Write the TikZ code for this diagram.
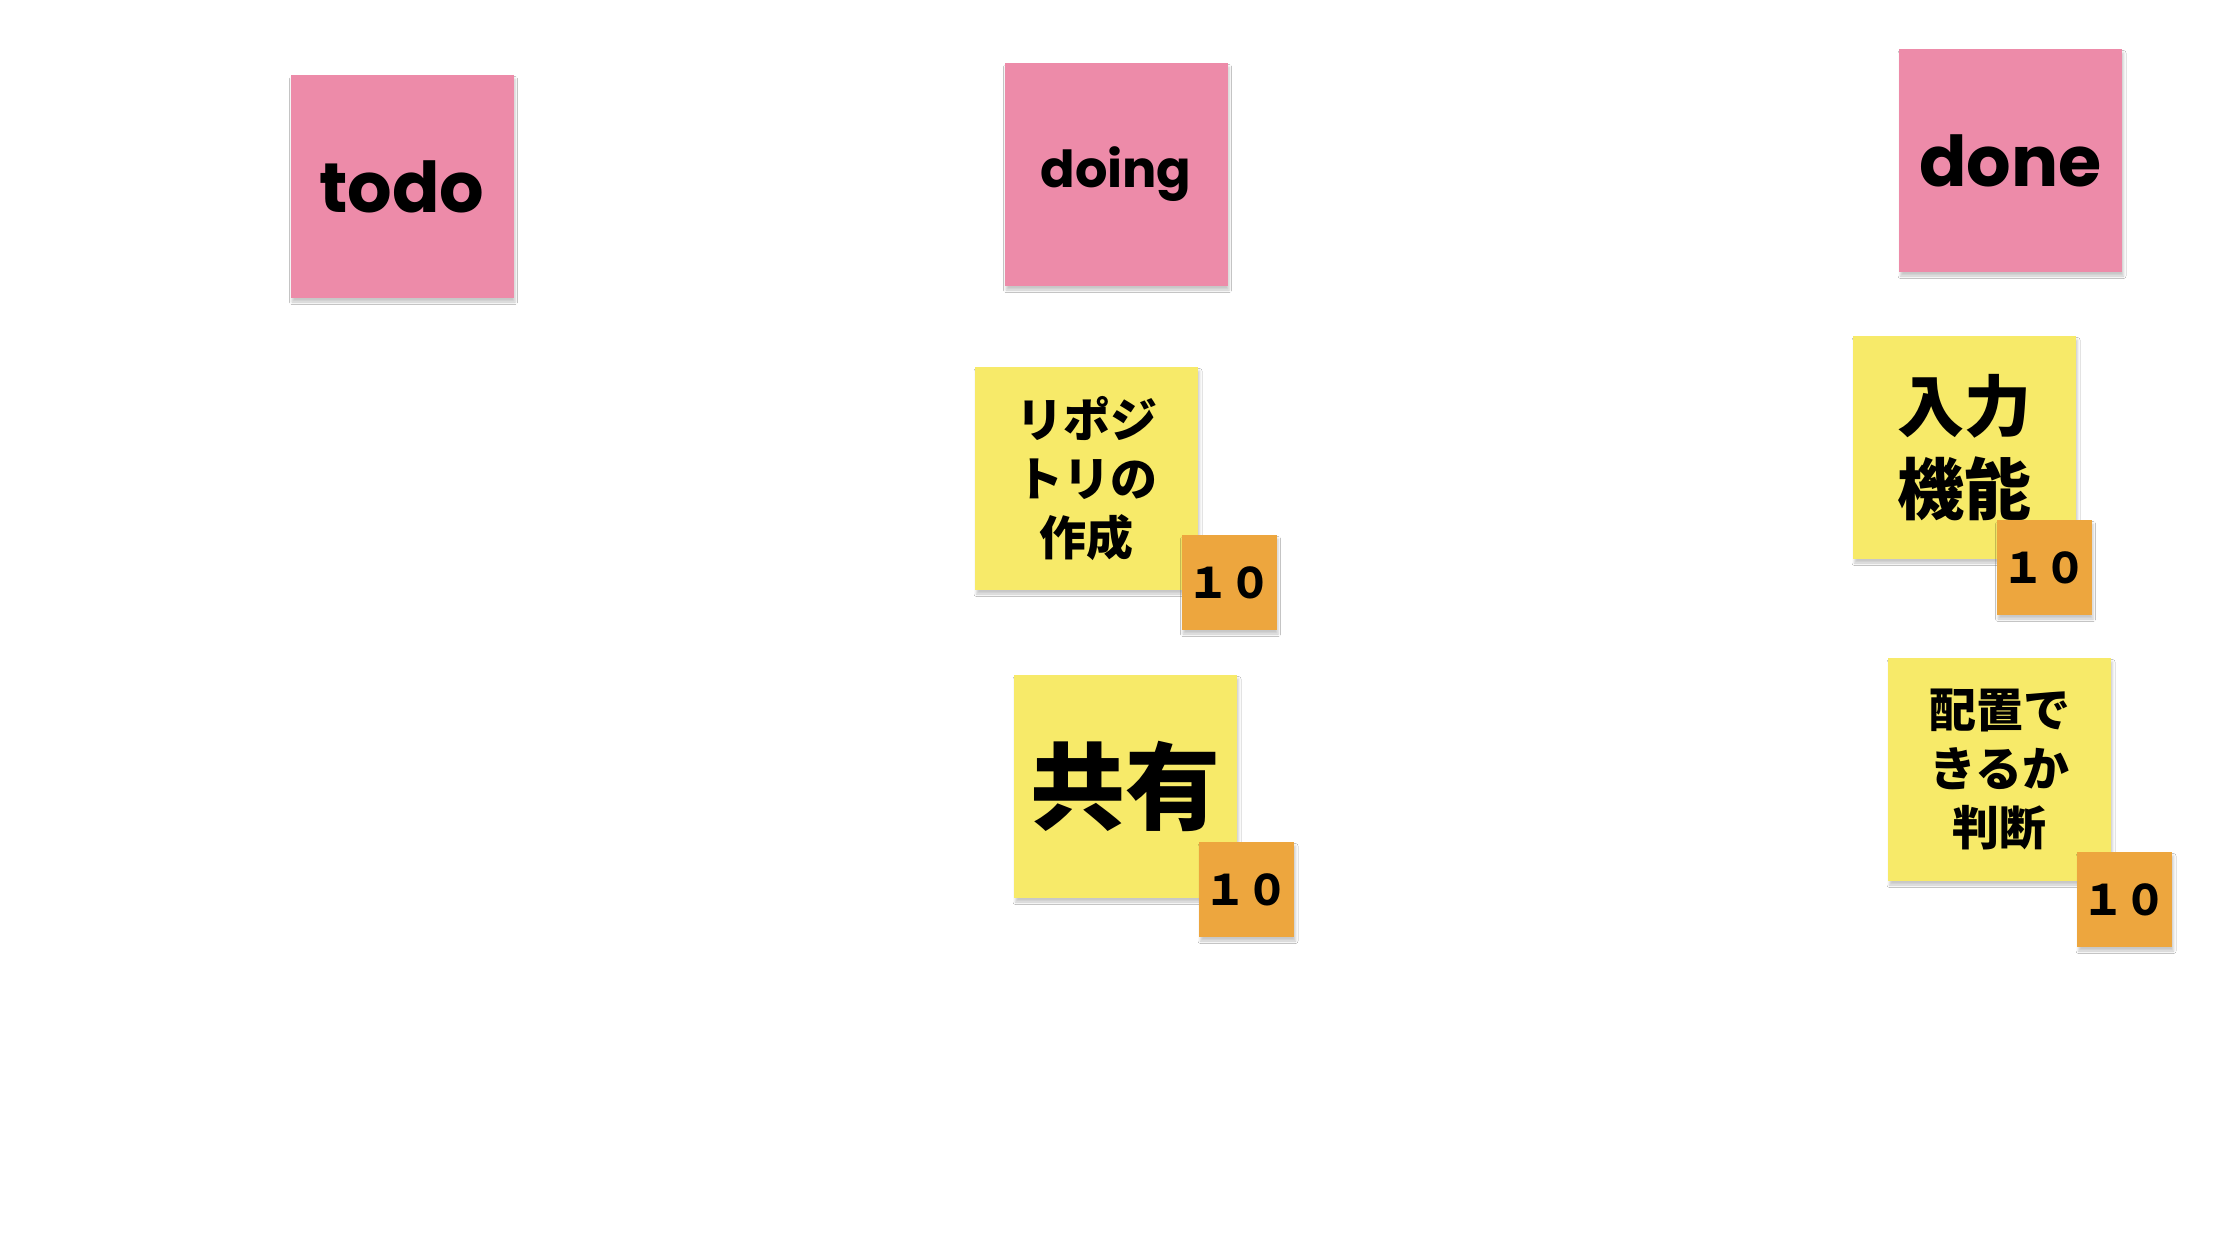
\documentclass[tikz,border=0pt]{standalone}
\usepackage{fontspec}
\usetikzlibrary{shadows.blur}
\newfontfamily\popfont{Poppins}
\newfontfamily\jpfont{Noto Sans CJK JP}
\definecolor{notepink}{HTML}{ED8BA9}
\definecolor{noteyellow}{HTML}{F7EA69}
\definecolor{noteorange}{HTML}{EDA63E}
\tikzset{
  x=1pt, y=1pt,
  softshadow/.style={blur shadow={shadow xshift=1.5pt, shadow yshift=-4pt, shadow blur radius=2.5pt, shadow opacity=22}},
  note/.style={draw=none, minimum width=223pt, minimum height=223pt, inner sep=0pt, align=center, softshadow},
  header/.style={note, fill=notepink, font=\popfont\bfseries},
  task/.style={note, fill=noteyellow, font=\jpfont\bfseries\fontsize{47}{59}\selectfont},
  points/.style={draw=none, fill=noteorange, minimum width=95pt, minimum height=95pt, inner sep=0pt,
    font=\jpfont\bfseries\fontsize{42}{50}\selectfont, softshadow}
}
\begin{document}
\begin{tikzpicture}
\useasboundingbox[fill=white] (0,0) rectangle (2234,-1235);
\node[header, font=\popfont\bfseries\fontsize{70}{80}\selectfont] (todo) at (402,-186.5) {todo};
\node[header, font=\popfont\bfseries\fontsize{51}{60}\selectfont] (doing) at (1116,-174.5) {doing};
\node[header, font=\popfont\bfseries\fontsize{70}{80}\selectfont] (done) at (2010.5,-160.5) {done};
\node[task] (repo) at (1086.5,-478.5) {リポジ\\トリの\\作成};
\node[task, font=\jpfont\bfseries\fontsize{95}{100}\selectfont] (share) at (1125.5,-786.5) {共有};
\node[task, font=\jpfont\bfseries\fontsize{67}{83}\selectfont] (input) at (1964.5,-447.5) {入力\\機能};
\node[task] (judge) at (1999.5,-769.5) {配置で\\きるか\\判断};
\node[points] (p1) at (1229,-582.5) {１０};
\node[points] (p2) at (1246.5,-889.5) {１０};
\node[points] (p3) at (2044,-567.5) {１０};
\node[points] (p4) at (2124.5,-899.5) {１０};
\end{tikzpicture}
\end{document}
